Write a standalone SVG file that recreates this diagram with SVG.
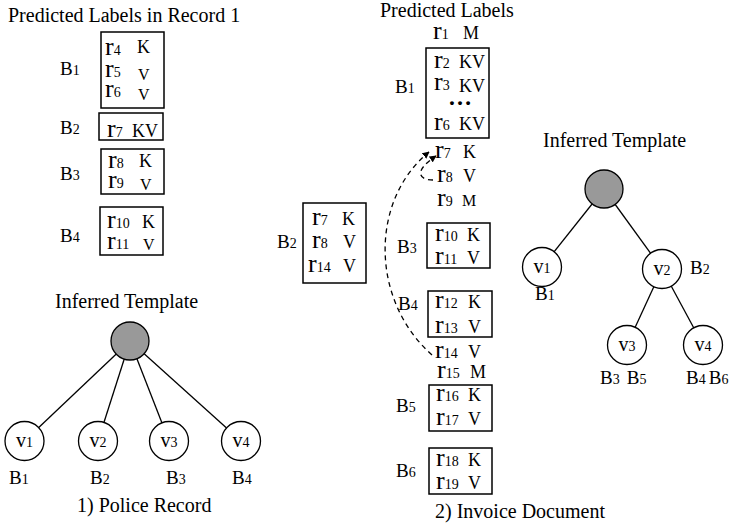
<svg xmlns="http://www.w3.org/2000/svg" width="734" height="529" viewBox="0 0 734 529" font-family="'Liberation Serif','Times New Roman',serif">
<defs>
<marker id="ah" viewBox="0 0 10 10" refX="9" refY="5" markerWidth="7" markerHeight="7" orient="auto" markerUnits="userSpaceOnUse">
<path d="M0,0 L10,5 L0,10 z" fill="#000"/>
</marker>
<style>
text{font-family:"Liberation Serif","Times New Roman",serif;fill:#000}
.t{font-size:20px}
.b{font-size:19px}
.r{font-size:26px}
.s{font-size:14px}
.k{font-size:18px}
.v{font-size:20px}
.box{fill:#fff;stroke:#000;stroke-width:1.5}
.node{fill:#fff;stroke:#000;stroke-width:1.3}
.root{fill:#999;stroke:#000;stroke-width:1.3}
.edge{stroke:#000;stroke-width:1.3;fill:none}
.dash{stroke:#000;stroke-width:1.3;fill:none;stroke-dasharray:5,4}
</style>
</defs>
<rect width="734" height="529" fill="#fff"/>

<!-- connectors -->
<g id="connectors">
<line class="edge" x1="130" y1="341" x2="24.5" y2="441"/>
<line class="edge" x1="130" y1="341" x2="98" y2="441"/>
<line class="edge" x1="130" y1="341" x2="169" y2="441"/>
<line class="edge" x1="130" y1="341" x2="241" y2="441"/>
<line class="edge" x1="604" y1="189" x2="542" y2="267"/>
<line class="edge" x1="604" y1="189" x2="662" y2="269"/>
<line class="edge" x1="662" y1="269" x2="627" y2="345"/>
<line class="edge" x1="662" y1="269" x2="703" y2="345"/>
<path class="dash" d="M432,355 C370,300 370,200 429,152" marker-end="url(#ah)"/>
<path class="dash" d="M433,180 C420,180 412,172 436,156" marker-end="url(#ah)"/>
</g>

<!-- left: police record -->
<text class="t" x="8" y="22">Predicted Labels in Record 1</text>

<g id="L_B1">
<rect class="box" x="101" y="32" width="63" height="76"/>
<text x="60" y="75"><tspan class="b">B</tspan><tspan class="s">1</tspan></text>
<text x="105" y="55"><tspan class="r">r</tspan><tspan class="s">4</tspan></text><text class="k" x="137" y="53">K</text>
<text x="105" y="77"><tspan class="r">r</tspan><tspan class="s">5</tspan></text><text class="k" x="138" y="80" style="font-size:16px">V</text>
<text x="105" y="97"><tspan class="r">r</tspan><tspan class="s">6</tspan></text><text class="k" x="138" y="100" style="font-size:16px">V</text>
</g>
<g id="L_B2">
<rect class="box" x="99" y="113" width="64" height="27"/>
<text x="60" y="134"><tspan class="b">B</tspan><tspan class="s">2</tspan></text>
<text x="107" y="137"><tspan class="r">r</tspan><tspan class="s">7</tspan></text><text class="k" x="132" y="137">KV</text>
</g>
<g id="L_B3">
<rect class="box" x="101" y="149" width="63" height="45"/>
<text x="60" y="180"><tspan class="b">B</tspan><tspan class="s">3</tspan></text>
<text x="108" y="168"><tspan class="r">r</tspan><tspan class="s">8</tspan></text><text class="k" x="139" y="167">K</text>
<text x="108" y="188"><tspan class="r">r</tspan><tspan class="s">9</tspan></text><text class="k" x="140" y="190" style="font-size:16px">V</text>
</g>
<g id="L_B4">
<rect class="box" x="100" y="207" width="63" height="48"/>
<text x="60" y="242"><tspan class="b">B</tspan><tspan class="s">4</tspan></text>
<text x="107" y="228"><tspan class="r">r</tspan><tspan class="s">10</tspan></text><text class="k" x="142" y="228">K</text>
<text x="107" y="249"><tspan class="r">r</tspan><tspan class="s">11</tspan></text><text class="k" x="143" y="250" style="font-size:16px">V</text>
</g>

<text class="t" x="55" y="308">Inferred Template</text>
<g id="L_root"><circle class="root" cx="130" cy="341" r="19"/></g>
<g id="L_v1"><circle class="node" cx="24.5" cy="441" r="19.5"/><text x="24.5" y="447" text-anchor="middle"><tspan class="v">v</tspan><tspan class="s">1</tspan></text></g>
<g id="L_v2"><circle class="node" cx="98" cy="441" r="19.5"/><text x="98" y="447" text-anchor="middle"><tspan class="v">v</tspan><tspan class="s">2</tspan></text></g>
<g id="L_v3"><circle class="node" cx="169" cy="441" r="19.5"/><text x="169" y="447" text-anchor="middle"><tspan class="v">v</tspan><tspan class="s">3</tspan></text></g>
<g id="L_v4"><circle class="node" cx="241" cy="441" r="19.5"/><text x="241" y="447" text-anchor="middle"><tspan class="v">v</tspan><tspan class="s">4</tspan></text></g>
<text x="9" y="484"><tspan class="b">B</tspan><tspan class="s">1</tspan></text>
<text x="90" y="484"><tspan class="b">B</tspan><tspan class="s">2</tspan></text>
<text x="166" y="484"><tspan class="b">B</tspan><tspan class="s">3</tspan></text>
<text x="232" y="484"><tspan class="b">B</tspan><tspan class="s">4</tspan></text>
<text class="t" x="77" y="512">1) Police Record</text>

<!-- middle: invoice -->
<text class="t" x="380" y="17">Predicted Labels</text>
<g id="r1"><text x="433" y="39"><tspan class="r">r</tspan><tspan class="s">1</tspan></text><text class="k" x="463" y="39">M</text></g>
<g id="M_B1">
<rect class="box" x="426" y="48" width="63" height="90"/>
<text x="395" y="93"><tspan class="b">B</tspan><tspan class="s">1</tspan></text>
<text x="434" y="68"><tspan class="r">r</tspan><tspan class="s">2</tspan></text><text class="k" x="459" y="68">KV</text>
<text x="434" y="90"><tspan class="r">r</tspan><tspan class="s">3</tspan></text><text class="k" x="459" y="92">KV</text>
<text x="448" y="105" style="font-size:24px;font-weight:bold">…</text>
<text x="434" y="130"><tspan class="r">r</tspan><tspan class="s">6</tspan></text><text class="k" x="459" y="130">KV</text>
</g>
<g id="r7"><text x="435" y="158"><tspan class="r">r</tspan><tspan class="s">7</tspan></text><text class="k" x="463" y="158">K</text></g>
<g id="r8"><text x="437" y="182"><tspan class="r">r</tspan><tspan class="s">8</tspan></text><text class="k" x="463" y="182">V</text></g>
<g id="r9"><text x="437" y="206"><tspan class="r">r</tspan><tspan class="s">9</tspan></text><text class="k" x="462" y="206" style="font-size:16px">M</text></g>
<g id="M_B3">
<rect class="box" x="427" y="223" width="63" height="45"/>
<text x="397" y="253"><tspan class="b">B</tspan><tspan class="s">3</tspan></text>
<text x="435" y="241"><tspan class="r">r</tspan><tspan class="s">10</tspan></text><text class="k" x="467" y="241">K</text>
<text x="435" y="264"><tspan class="r">r</tspan><tspan class="s">11</tspan></text><text class="k" x="467" y="264">V</text>
</g>
<g id="M_B2">
<rect class="box" x="303" y="203" width="63" height="80"/>
<text x="277" y="248"><tspan class="b">B</tspan><tspan class="s">2</tspan></text>
<text x="312" y="225"><tspan class="r">r</tspan><tspan class="s">7</tspan></text><text class="k" x="342" y="225">K</text>
<text x="312" y="248"><tspan class="r">r</tspan><tspan class="s">8</tspan></text><text class="k" x="343" y="248">V</text>
<text x="308" y="272"><tspan class="r">r</tspan><tspan class="s">14</tspan></text><text class="k" x="343" y="272">V</text>
</g>
<g id="M_B4">
<rect class="box" x="428" y="291" width="64" height="46"/>
<text x="398" y="310"><tspan class="b">B</tspan><tspan class="s">4</tspan></text>
<text x="435" y="308"><tspan class="r">r</tspan><tspan class="s">12</tspan></text><text class="k" x="468" y="308">K</text>
<text x="435" y="333"><tspan class="r">r</tspan><tspan class="s">13</tspan></text><text class="k" x="468" y="333">V</text>
</g>
<g id="r14"><text x="435" y="358"><tspan class="r">r</tspan><tspan class="s">14</tspan></text><text class="k" x="468" y="358">V</text></g>
<g id="r15"><text x="437" y="378"><tspan class="r">r</tspan><tspan class="s">15</tspan></text><text class="k" x="470" y="378">M</text></g>
<g id="M_B5">
<rect class="box" x="429" y="385" width="63" height="46"/>
<text x="396" y="412"><tspan class="b">B</tspan><tspan class="s">5</tspan></text>
<text x="436" y="401"><tspan class="r">r</tspan><tspan class="s">16</tspan></text><text class="k" x="468" y="401">K</text>
<text x="436" y="425"><tspan class="r">r</tspan><tspan class="s">17</tspan></text><text class="k" x="468" y="425">V</text>
</g>
<g id="M_B6">
<rect class="box" x="429" y="448" width="63" height="46"/>
<text x="396" y="477"><tspan class="b">B</tspan><tspan class="s">6</tspan></text>
<text x="436" y="466"><tspan class="r">r</tspan><tspan class="s">18</tspan></text><text class="k" x="468" y="466">K</text>
<text x="436" y="489"><tspan class="r">r</tspan><tspan class="s">19</tspan></text><text class="k" x="468" y="489">V</text>
</g>
<text class="t" x="435" y="518">2) Invoice Document</text>

<!-- right tree -->
<text class="t" x="543" y="147">Inferred Template</text>
<g id="R_root"><circle class="root" cx="604" cy="189" r="19"/></g>
<g id="R_v1"><circle class="node" cx="542" cy="267" r="19.5"/><text x="542" y="273" text-anchor="middle"><tspan class="v">v</tspan><tspan class="s">1</tspan></text><text x="535" y="300"><tspan class="b">B</tspan><tspan class="s">1</tspan></text></g>
<g id="R_v2"><circle class="node" cx="662" cy="269" r="19.5"/><text x="662" y="275" text-anchor="middle"><tspan class="v">v</tspan><tspan class="s">2</tspan></text><text x="690" y="274"><tspan class="b">B</tspan><tspan class="s">2</tspan></text></g>
<g id="R_v3"><circle class="node" cx="627" cy="345" r="19.5"/><text x="627" y="351" text-anchor="middle"><tspan class="v">v</tspan><tspan class="s">3</tspan></text><text x="600" y="384"><tspan class="b">B</tspan><tspan class="s">3</tspan><tspan class="b" dx="7">B</tspan><tspan class="s">5</tspan></text></g>
<g id="R_v4"><circle class="node" cx="703" cy="345" r="19.5"/><text x="703" y="351" text-anchor="middle"><tspan class="v">v</tspan><tspan class="s">4</tspan></text><text x="686" y="384"><tspan class="b">B</tspan><tspan class="s">4</tspan><tspan class="b" dx="3">B</tspan><tspan class="s">6</tspan></text></g>
</svg>
